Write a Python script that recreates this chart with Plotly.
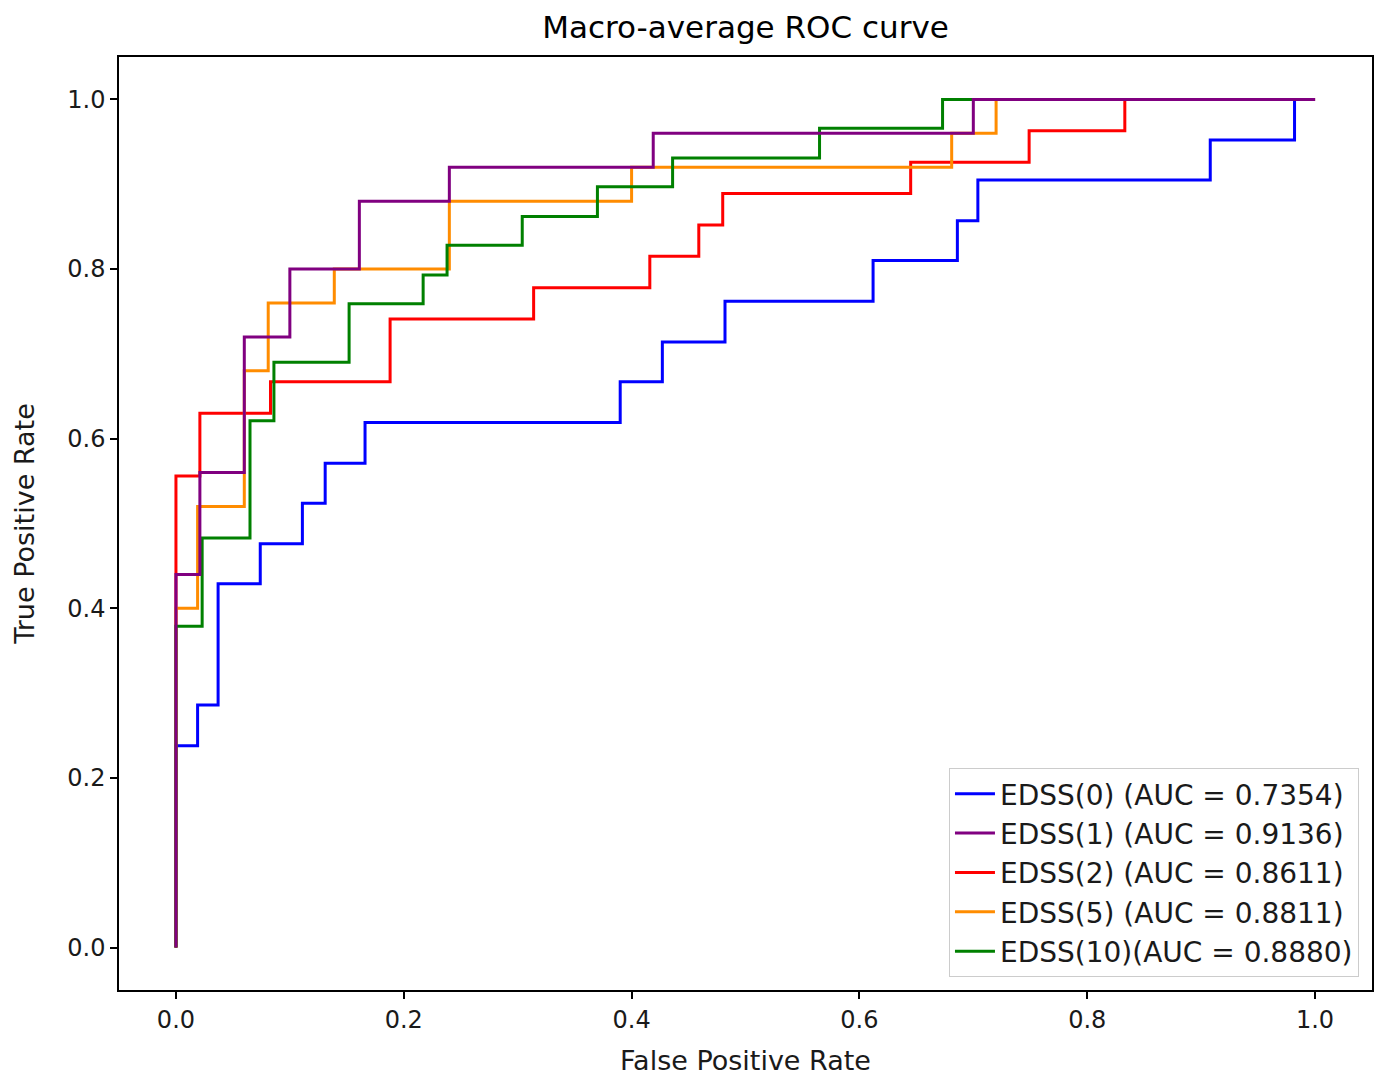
import plotly.graph_objects as go

# ROC points (fpr, tpr), drawn as step curves
labels = ["EDSS(0) (AUC = 0.7354)", "EDSS(1) (AUC = 0.9136)", "EDSS(2) (AUC = 0.8611)",
          "EDSS(5) (AUC = 0.8811)", "EDSS(10)(AUC = 0.8880)"]
colors = ["#0000ff", "#800080", "#ff0000", "#ff8c00", "#008000"]

fpr_0 = [0, 0, 0.019, 0.037, 0.074, 0.111, 0.131, 0.166, 0.390, 0.427, 0.482, 0.612, 0.686, 0.704, 0.908, 0.982, 1.0]
tpr_0 = [0, 0.238, 0.286, 0.429, 0.476, 0.524, 0.571, 0.619, 0.667, 0.714, 0.762, 0.810, 0.857, 0.905, 0.952, 1.0, 1.0]

fpr_1 = [0, 0, 0.021, 0.060, 0.100, 0.161, 0.240, 0.419, 0.700, 1.0]
tpr_1 = [0, 0.44, 0.56, 0.72, 0.80, 0.88, 0.92, 0.96, 1.0, 1.0]

fpr_2 = [0, 0, 0.021, 0.083, 0.188, 0.314, 0.416, 0.459, 0.480, 0.645, 0.749, 0.833, 1.0]
tpr_2 = [0, 0.556, 0.630, 0.667, 0.741, 0.778, 0.815, 0.852, 0.889, 0.926, 0.963, 1.0, 1.0]

fpr_5 = [0, 0, 0.019, 0.060, 0.081, 0.139, 0.240, 0.400, 0.681, 0.720, 1.0]
tpr_5 = [0, 0.40, 0.52, 0.68, 0.76, 0.80, 0.88, 0.92, 0.96, 1.0, 1.0]

fpr_10 = [0, 0, 0.023, 0.065, 0.086, 0.152, 0.217, 0.238, 0.304, 0.370, 0.436, 0.565, 0.673, 1.0]
tpr_10 = [0, 0.379, 0.483, 0.621, 0.690, 0.759, 0.793, 0.828, 0.862, 0.897, 0.931, 0.966, 1.0, 1.0]

xticks = [0.0, 0.2, 0.4, 0.6, 0.8, 1.0]
yticks = [0.0, 0.2, 0.4, 0.6, 0.8, 1.0]

series = [(fpr_0, tpr_0), (fpr_1, tpr_1), (fpr_2, tpr_2), (fpr_5, tpr_5), (fpr_10, tpr_10)]
draw_order = [0, 2, 3, 4, 1]  # purple drawn on top

fig = go.Figure()
for i in draw_order:
    fx, ty = series[i]
    fig.add_trace(go.Scatter(
        x=fx, y=ty, mode="lines", name=labels[i],
        line=dict(color=colors[i], width=3, shape="hv"),
        legendrank=i + 1,
    ))

FONT = "DejaVu Sans"
fig.update_layout(
    width=1378, height=1076,
    margin=dict(l=119, r=6, t=57, b=86),
    paper_bgcolor="white", plot_bgcolor="white",
    font=dict(family=FONT, size=24, color="#1a1a1a"),
    title=dict(text="Macro-average ROC curve", x=0.5, xref="paper", xanchor="center",
               y=1 - 27 / 1076, yref="container", yanchor="middle",
               font=dict(family=FONT, size=31, color="black")),
    showlegend=True,
    legend=dict(x=0.9896, y=0.014, xanchor="right", yanchor="bottom",
                bgcolor="rgba(255,255,255,0.8)", bordercolor="#cccccc", borderwidth=1,
                font=dict(family=FONT, size=28, color="#1a1a1a"),
                itemwidth=40, tracegroupgap=0),
)
axis_common = dict(showline=True, linecolor="black", linewidth=1.5, mirror=True,
                   ticks="outside", ticklen=7, tickwidth=1.5, tickcolor="black",
                   showgrid=False, zeroline=False, tickformat=".1f", automargin=False)
fig.update_xaxes(range=[-0.05, 1.05], tickvals=xticks, **axis_common,
                 title=dict(text="False Positive Rate", font=dict(family=FONT, size=27), standoff=22))
fig.update_yaxes(range=[-0.05, 1.05], tickvals=yticks, **axis_common,
                 title=dict(text="True Positive Rate", font=dict(family=FONT, size=27), standoff=25))

fig.write_html("out.html")
